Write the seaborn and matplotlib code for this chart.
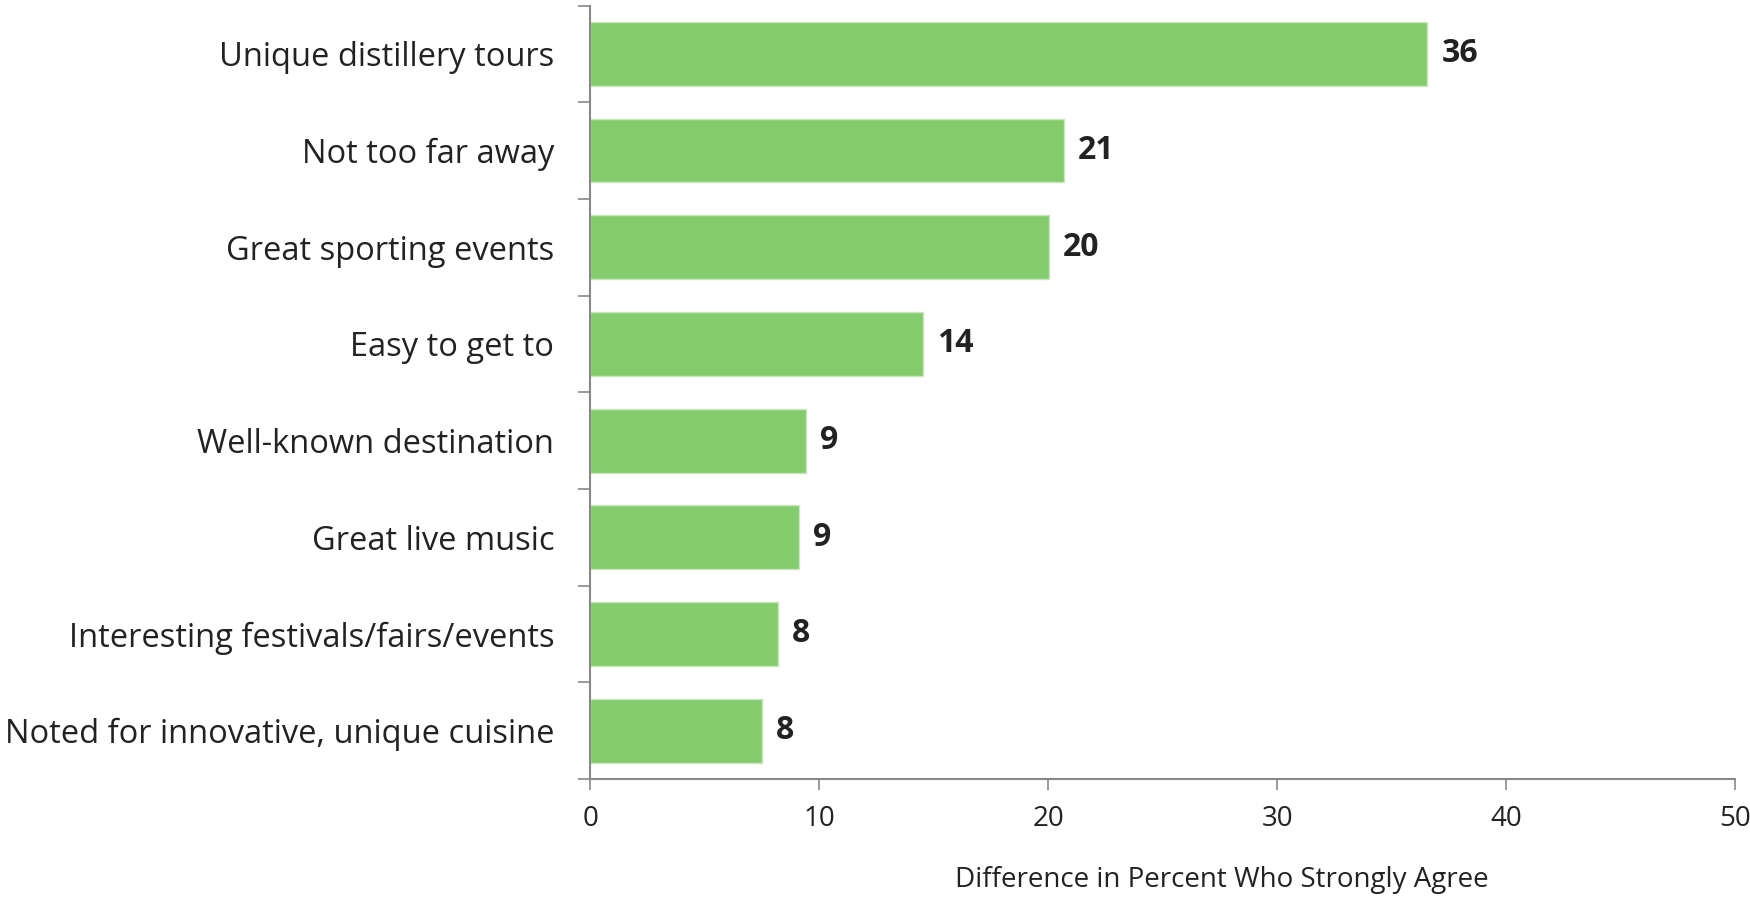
import matplotlib
matplotlib.use("Agg")
import matplotlib.pyplot as plt
import seaborn as sns
import pandas as pd
import numpy as np

categories = [
    "Unique distillery tours",
    "Not too far away",
    "Great sporting events",
    "Easy to get to",
    "Well-known destination",
    "Great live music",
    "Interesting festivals/fairs/events",
    "Noted for innovative, unique cuisine",
]
values = [36.55, 20.66, 20.03, 14.52, 9.41, 9.11, 8.19, 7.50]
value_labels = ["36", "21", "20", "14", "9", "9", "8", "8"]
x_ticks = [0, 10, 20, 30, 40, 50]
x_label = "Difference in Percent Who Strongly Agree"

sns.set_theme(style="white")
plt.rcParams["font.family"] = ["Open Sans", "DejaVu Sans"]

df = pd.DataFrame({"category": categories, "value": values})

fig = plt.figure(figsize=(17.5, 8.99), dpi=100)
ax = fig.add_axes([0.3374, 0.1335, 0.6543, 0.8603])

sns.barplot(data=df, y="category", x="value", orient="h", color="#82CC6C",
            saturation=1, width=0.66, edgecolor="#C9E6BF", linewidth=1, ax=ax)

ax.set_xlim(0, 50)
ax.set_ylim(len(categories) - 0.5, -0.5)
ax.set_xticks(x_ticks)
ax.set_xticklabels([str(t) for t in x_ticks], fontsize=20, color="#222222")
ax.set_yticks(range(len(categories)))
ax.set_yticklabels(categories, fontsize=23.5, color="#222222")
ax.set_yticks(np.arange(-0.5, len(categories), 1.0), minor=True)
ax.tick_params(axis="y", which="major", left=True, length=0, pad=26)
ax.tick_params(axis="y", which="minor", left=True, length=9, width=1.2,
               color="#888888", direction="out")
ax.tick_params(axis="x", which="major", bottom=True, length=8, width=1.2,
               color="#888888", direction="out", pad=11)

for s in ["top", "right"]:
    ax.spines[s].set_visible(False)
for s in ["left", "bottom"]:
    ax.spines[s].set_color("#888888")
    ax.spines[s].set_linewidth(1.5)

ax.set_ylabel("")
ax.set_xlabel(x_label, fontsize=20, color="#222222")
ax.xaxis.set_label_coords(0.551, -0.112)

for i, (v, lab) in enumerate(zip(values, value_labels)):
    ax.annotate(lab, xy=(v, i), xytext=(10, 0), textcoords="offset points",
                ha="left", va="center", fontsize=23, fontweight="bold", color="#222222")

fig.savefig("out.png", dpi=100)
